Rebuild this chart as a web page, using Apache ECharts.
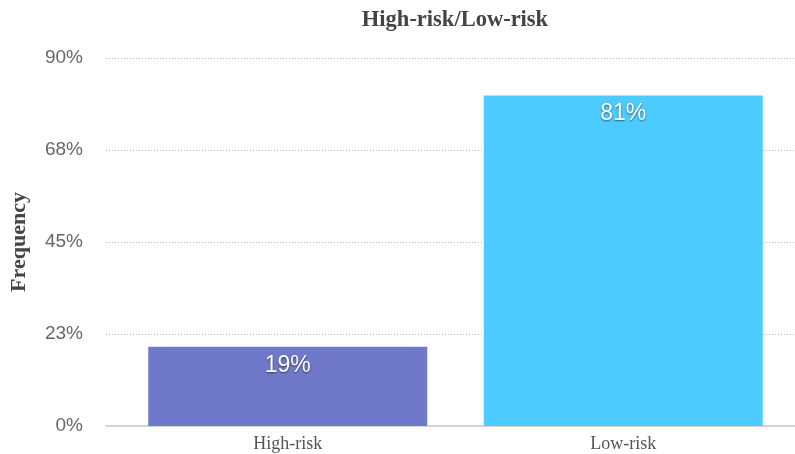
<!DOCTYPE html>
<html>
<head>
<meta charset="utf-8">
<script src="https://cdn.jsdelivr.net/npm/echarts@6/dist/echarts.min.js"></script>
<style>html,body{margin:0;padding:0;background:#fff}#c{width:795px;height:454px}</style>
</head>
<body>
<div id="c"></div>
<script>
const categories = ['High-risk', 'Low-risk'];
const values = [19.4, 80.8];
const labels = ['19%', '81%'];
const barColors = ['#7078C9', '#4CCBFE'];
const yTicks = [0, 22.5, 45, 67.5, 90];
const chartTitle = 'High-risk/Low-risk';
const yName = 'Frequency';

const chart = echarts.init(document.getElementById('c'));
chart.setOption({
  animation: false,
  backgroundColor: '#fff',
  title: {
    text: chartTitle, left: 455, top: 9, textAlign: 'center', padding: 0,
    textStyle: { fontFamily: 'Liberation Serif', fontWeight: 'bold', fontSize: 22.5, color: '#444' }
  },
  grid: [
    { left: 106, right: 0, top: 58, bottom: 28 },
    { left: 120, right: 4, top: 58, bottom: 28 }
  ],
  xAxis: [
    { type: 'category', gridIndex: 0, data: categories,
      axisLine: { show: true, lineStyle: { color: '#d4d4d4', width: 2 } },
      axisTick: { show: false }, axisLabel: { show: false }, splitLine: { show: false } },
    { type: 'category', gridIndex: 1, data: categories,
      axisLine: { show: false }, axisTick: { show: false },
      axisLabel: { margin: 9, fontFamily: 'Liberation Serif', fontSize: 18, color: '#555' } }
  ],
  yAxis: [
    { type: 'value', gridIndex: 0, min: 0, max: 90, interval: 22.5,
      name: yName, nameLocation: 'middle', nameRotate: 90, nameGap: 76,
      nameTextStyle: { fontFamily: 'Liberation Serif', fontWeight: 'bold', fontSize: 22, color: '#444' },
      axisLine: { show: false }, axisTick: { show: false },
      axisLabel: { margin: 23, fontFamily: 'Liberation Sans', fontSize: 19, color: '#666',
        formatter: v => Math.round(v) + '%' },
      splitLine: { show: true, lineStyle: { color: '#bdbdbd', type: [1, 2], width: 1 } } },
    { type: 'value', gridIndex: 1, min: 0, max: 90, interval: 22.5, show: false,
      splitLine: { show: false } }
  ],
  series: [{
    type: 'bar', xAxisIndex: 1, yAxisIndex: 1, barWidth: 279,
    data: values.map((v, i) => ({ value: v, itemStyle: { color: barColors[i] } })),
    label: {
      show: true, position: 'insideTop', distance: 7,
      formatter: p => labels[p.dataIndex],
      fontFamily: 'Liberation Sans', fontSize: 23, color: '#fff',
      textShadowColor: 'rgba(0,0,0,0.55)', textShadowBlur: 2, textShadowOffsetY: 1
    }
  }]
});
</script>
</body>
</html>
